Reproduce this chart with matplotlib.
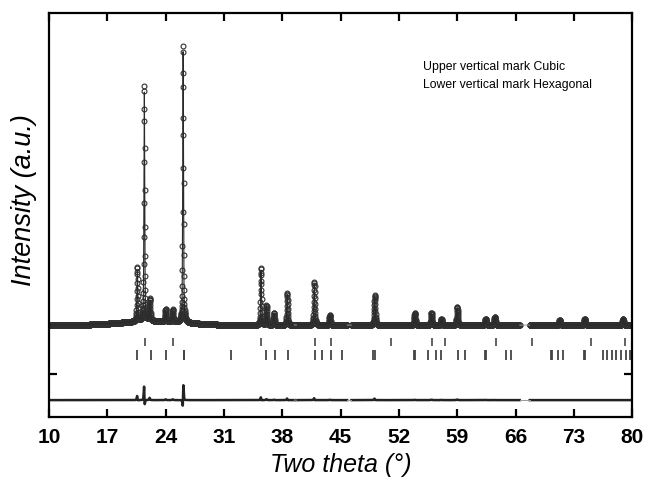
import numpy as np
import matplotlib
matplotlib.use("Agg")
import matplotlib.pyplot as plt

plt.rcParams['font.family'] = ['Liberation Sans Narrow', 'Liberation Sans', 'DejaVu Sans']

# Peaks picked off the refined pattern: position (deg), observed / calculated height, FWHM
peak_pos = [20.6, 21.44, 22.1, 24.0, 24.85, 26.1, 35.45, 36.1, 37.0, 38.6,
            41.85, 43.7, 49.1, 53.9, 55.9, 57.1, 59.0, 62.4, 63.5, 71.3, 74.3, 78.9]
peak_obs = [2700, 11800, 1100, 600, 600, 13900, 2850, 1000, 600, 1600,
            2150, 500, 1500, 600, 600, 300, 900, 300, 400, 250, 300, 300]
peak_calc = [2550, 11450, 1000, 560, 560, 13550, 2750, 950, 580, 1540,
             2080, 480, 1440, 580, 580, 290, 870, 290, 390, 250, 300, 300]
peak_shift = [0.003, 0.003, 0.003, 0.0, 0.0, -0.003, 0.002, 0.0, 0.0, 0.002,
              0.002, 0.0, 0.002, 0.0, 0.0, 0.0, 0.0, 0.0, 0.0, 0.0, 0.0, 0.0]
peak_fwhm = [0.12, 0.11, 0.14, 0.14, 0.14, 0.11, 0.12, 0.13, 0.14, 0.13,
             0.14, 0.15, 0.15, 0.16, 0.16, 0.16, 0.16, 0.18, 0.18, 0.18, 0.18, 0.18]

# broad amorphous hump under the low-angle peaks
hump_pos, hump_height, hump_fwhm = 22.5, 200, 9.0

# Bragg positions
cubic_pos = [21.5, 24.85, 35.5, 41.9, 43.85, 51.1, 56.0, 57.5, 63.7, 68.0, 75.1, 79.1]
hex_pos = [20.6, 22.2, 24.1, 26.15, 26.25, 31.9, 36.1, 37.1, 38.7, 41.9, 42.8,
           43.9, 45.2, 48.95, 49.1, 53.85, 53.95, 55.5, 56.5, 57.1, 59.1, 59.9,
           62.3, 62.4, 64.9, 65.5, 70.25, 70.35, 71.1, 71.7, 74.25, 74.35,
           76.5, 77.0, 77.6, 78.1, 78.7, 79.2, 79.7]

excluded = [(39.45, 39.7), (45.8, 46.3), (66.5, 67.7)]

two_theta = np.arange(10.0, 80.0, 0.015)


def pvoigt(x, pos, height, fwhm, eta=0.5):
    g = np.exp(-4 * np.log(2) * ((x - pos) / fwhm) ** 2)
    l = 1.0 / (1.0 + 4 * ((x - pos) / fwhm) ** 2)
    return height * (eta * l + (1 - eta) * g)


def pattern(x, heights, shifts):
    y = pvoigt(x, hump_pos, hump_height, hump_fwhm, eta=0.0)
    for p, h, s, w in zip(peak_pos, heights, shifts, peak_fwhm):
        y = y + pvoigt(x, p + s, h, w)
    return y


yobs = pattern(two_theta, peak_obs, [0.0] * len(peak_pos))
ycalc = pattern(two_theta, peak_calc, peak_shift)
diff_offset = -3750
ydiff = yobs - ycalc + diff_offset

mask = np.zeros_like(two_theta, dtype=bool)
for a, b in excluded:
    mask |= (two_theta >= a) & (two_theta <= b)
yobs_m = np.where(mask, np.nan, yobs)
ycalc_m = np.where(mask, np.nan, ycalc)
ydiff_m = np.where(mask, np.nan, ydiff)

fig = plt.figure(figsize=(6.48, 4.8), dpi=100)
ax = fig.add_axes([0.0756, 0.131, 0.900, 0.842])

ax.plot(two_theta, yobs_m, 'o', ms=3.5, mfc='none', mec='#303030', mew=0.8)
ax.plot(two_theta, ycalc_m, '-', color='#2a2a2a', lw=0.8)
ax.plot(two_theta, ydiff_m, '-', color='#222222', lw=1.8)
for a, b in excluded:
    ax.plot([a, b], np.interp([a, b], two_theta, ycalc), color='#999999', lw=0.7)
    ax.plot([a, b], np.interp([a, b], two_theta, ydiff), color='#999999', lw=0.7)

ax.vlines(cubic_pos, -1050, -650, color='#555555', lw=1.3)
ax.vlines(hex_pos, -1750, -1250, color='#444444', lw=1.3)

ax.text(54.9, 12900, 'Upper vertical mark Cubic', fontsize=8.8, va='center',
        family=['Liberation Sans', 'DejaVu Sans'])
ax.text(54.9, 12000, 'Lower vertical mark Hexagonal', fontsize=8.8, va='center',
        family=['Liberation Sans', 'DejaVu Sans'])

ax.set_xlim(10, 80)
ax.set_ylim(-4600, 15600)
ax.set_xticks([10, 17, 24, 31, 38, 45, 52, 59, 66, 73, 80])
ax.set_yticks([-2450])
ax.set_yticklabels([])
ax.tick_params(direction='in', top=True, right=True, length=6, width=1.6,
               labelsize=15, pad=8)
for lab in ax.get_xticklabels():
    lab.set_fontweight('bold')
for sp in ax.spines.values():
    sp.set_linewidth(1.6)

ax.set_xlabel('Two theta (°)', fontsize=18, style='italic', labelpad=4)
ax.set_ylabel('Intensity (a.u.)', fontsize=19.5, style='italic',
              family=['Liberation Sans', 'DejaVu Sans'])
ax.yaxis.set_label_coords(-0.021, 0.537)

fig.savefig('out.png', dpi=100)
